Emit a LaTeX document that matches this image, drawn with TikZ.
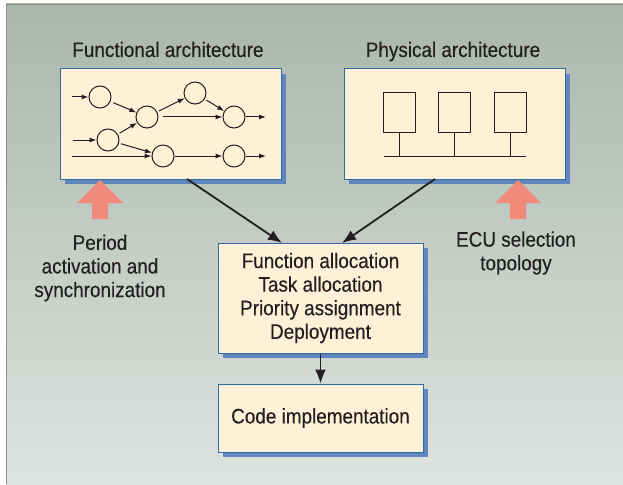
\documentclass[tikz,border=0pt]{standalone}
\usepackage{fontspec}
\setmainfont[FakeStretch=0.9, FakeBold=0.3]{Liberation Sans}
\usetikzlibrary{arrows.meta,shadows}

\definecolor{bgtop}{RGB}{170,182,172}
\definecolor{bgbot}{RGB}{222,227,223}
\definecolor{frameline}{RGB}{140,145,140}
\definecolor{cream}{RGB}{255,240,216}
\definecolor{boxblue}{RGB}{46,109,164}
\definecolor{shadowblue}{RGB}{95,135,189}
\definecolor{ink}{RGB}{35,31,32}
\definecolor{salmon}{RGB}{240,138,122}

\tikzset{
  panel/.style={draw=boxblue, line width=1pt, fill=cream, inner sep=0pt,
    drop shadow={shadow xshift=5pt, shadow yshift=-5pt, fill=shadowblue, opacity=1}},
  lbl/.style={text=ink, font=\fontsize{21}{23.6}\selectfont, align=center, inner sep=0pt},
  proc/.style={circle, draw=ink, line width=1pt, minimum size=22pt, inner sep=0pt},
  ecu/.style={rectangle, draw=ink, line width=1pt, minimum width=32pt, minimum height=39pt, inner sep=0pt},
  flow/.style={draw=ink, line width=1pt, -{Latex[length=7pt,width=5pt]}},
  wire/.style={draw=ink, line width=1pt},
  bigflow/.style={draw=ink, line width=1.8pt, -{Latex[length=14pt,width=11pt]}},
  blockarrow/.style={fill=salmon, draw=none}
}

\begin{document}
\begin{tikzpicture}[x=1pt,y=-1pt]
  \useasboundingbox (0,0) rectangle (623,484);

  % backdrop with its frame
  \shade[top color=bgtop, bottom color=bgbot] (6,4) rectangle (623,484);
  \draw[frameline, line width=1.2pt] (6.5,484) -- (6.5,4.6) -- (623,4.6);

  % headings
  \node[lbl, anchor=base] (ftitle) at (168,57) {Functional architecture};
  \node[lbl, anchor=base] (ptitle) at (453,57) {Physical architecture};

  % the four panels
  \node[panel, minimum width=221pt, minimum height=110pt] (fa) at (170.5,124) {};
  \node[panel, minimum width=221pt, minimum height=110pt] (pa) at (454.5,124) {};
  \node[panel, lbl, minimum width=205pt, minimum height=110pt] (alloc) at (320.5,298)
    {Function allocation\\Task allocation\\Priority assignment\\Deployment};
  \node[panel, lbl, minimum width=205pt, minimum height=68pt] (code) at (320.5,418)
    {Code implementation};

  % functional network
  \node[proc] (c1) at (100,97) {};
  \node[proc] (c2) at (147,117) {};
  \node[proc] (c3) at (195,93) {};
  \node[proc] (c4) at (234,117) {};
  \node[proc] (c5) at (108,140) {};
  \node[proc] (c6) at (163,156) {};
  \node[proc] (c7) at (234,156) {};
  \coordinate (in1) at (72,97);
  \coordinate (in2) at (73,140);
  \coordinate (in3) at (72,156);
  \coordinate (out1) at (266,117);
  \coordinate (out2) at (266,156);

  \draw[flow] (in1) -- (c1);
  \draw[flow, shorten <=3pt] (c1) -- (c2);
  \draw[flow, shorten <=2pt] (c2) -- (c3);
  \draw[flow, shorten <=2pt] (c3) -- (c4);
  \draw[flow, shorten <=4pt] (c2.east) -- (c4.west);
  \draw[flow] (c4.east) -- (out1);
  \draw[flow] (in2) -- (c5);
  \draw[flow, shorten <=2pt] (c5) -- (c2);
  \draw[flow, shorten <=2pt] (c5) -- (c6);
  \draw[flow] (in3) -- (c6.west);
  \draw[flow] (c6.east) -- (c7.west);
  \draw[flow] (c7.east) -- (out2);

  % physical network: three ECUs on a bus
  \node[ecu] (e1) at (399,112.5) {};
  \node[ecu] (e2) at (454,112.5) {};
  \node[ecu] (e3) at (510,112.5) {};
  \coordinate (busL) at (384,156);
  \coordinate (busR) at (526,156);
  \draw[wire] (busL) -- (busR);
  \draw[wire] (e1.south) -- (e1.south |- busL);
  \draw[wire] (e2.south) -- (e2.south |- busL);
  \draw[wire] (e3.south) -- (e3.south |- busL);

  % connectors between panels
  \coordinate (faout) at (187,179);
  \coordinate (paout) at (435,179);
  \coordinate (allocinL) at (282,243);
  \coordinate (allocinR) at (342,243);
  \draw[bigflow] (faout) -- (allocinL);
  \draw[bigflow] (paout) -- (allocinR);
  \draw[bigflow] (alloc.south) -- (code.north);

  % input block arrows
  \fill[blockarrow] (100,180) -- (123,203) -- (108,203) -- (108,219)
    -- (92,219) -- (92,203) -- (77,203) -- cycle;
  \fill[blockarrow] (518,180) -- (541,203) -- (526,203) -- (526,219)
    -- (510,219) -- (510,203) -- (495,203) -- cycle;

  % input labels
  \node[lbl] (timing) at (100,268) {Period\\activation and\\synchronization};
  \node[lbl] (hw) at (516,253) {ECU selection\\topology};
\end{tikzpicture}
\end{document}
